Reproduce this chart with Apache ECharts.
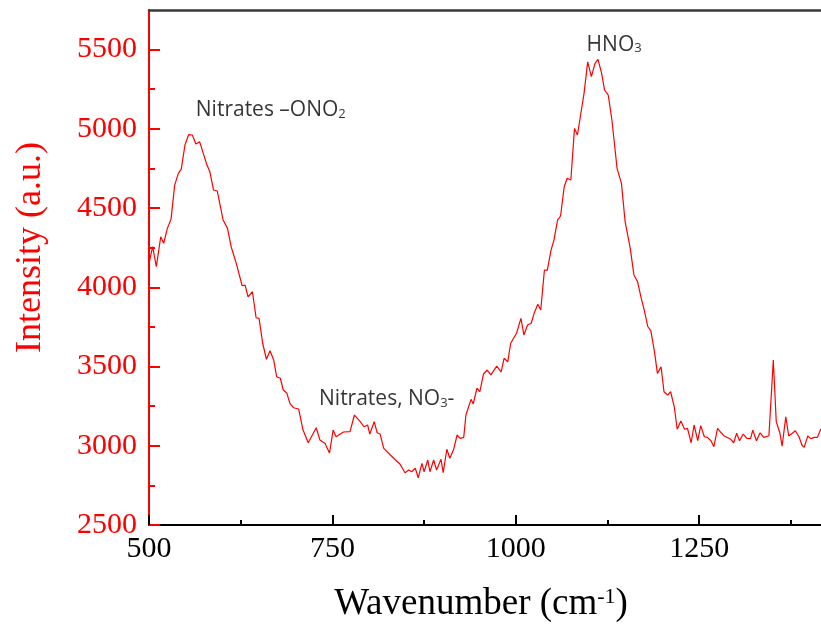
<!DOCTYPE html>
<html>
<head>
<meta charset="utf-8">
<script src="https://cdn.jsdelivr.net/npm/echarts@6/dist/echarts.min.js"></script>
<style>
  html, body { margin: 0; padding: 0; background: #ffffff; }
  #chart { width: 821px; height: 625px; }
</style>
</head>
<body>
<div id="chart"></div>
<script>
// Raman spectrum: wavenumber (cm^-1) against intensity (a.u.)
const wavenumbers = [
  500, 505, 510, 516, 520, 525, 530, 535, 540, 544,
  549, 554, 559, 564, 569, 574, 579, 583, 588, 593,
  601, 607, 612, 619, 627, 631, 635, 641, 646, 650,
  655, 660, 665, 670, 674, 679, 683, 688, 692, 697,
  704, 710, 717, 728, 733, 740, 746, 751, 755, 765,
  774, 780, 788, 793, 798, 801, 807, 811, 815, 820,
  829, 836, 842, 849, 854, 858, 863, 867, 872, 875,
  880, 883, 888, 892, 898, 901, 906, 910, 915, 920,
  924, 929, 932, 939, 942, 947, 951, 956, 961, 966,
  974, 980, 984, 989, 993, 1001, 1007, 1011, 1016, 1021,
  1025, 1030, 1034, 1039, 1043, 1048, 1052, 1057, 1061, 1066,
  1070, 1075, 1080, 1084, 1089, 1093, 1098, 1103, 1108, 1112,
  1117, 1121, 1126, 1131, 1138, 1144, 1149, 1156, 1161, 1166,
  1171, 1175, 1180, 1184, 1189, 1193, 1198, 1202, 1207, 1211,
  1216, 1220, 1225, 1230, 1234, 1239, 1243, 1248, 1252, 1257,
  1261, 1266, 1270, 1275, 1280, 1284, 1289, 1293, 1297, 1301,
  1305, 1310, 1315, 1320, 1323, 1328, 1333, 1338, 1345, 1347,
  1351, 1355, 1360, 1363, 1368, 1372, 1377, 1381, 1386, 1390,
  1393, 1398, 1402, 1407, 1411, 1416
];

const intensities = [
  4151, 4256, 4130, 4319, 4278, 4372, 4429, 4645, 4719, 4746,
  4898, 4963, 4961, 4904, 4919, 4845, 4772, 4729, 4614, 4608,
  4425, 4372, 4256, 4151, 4010, 4014, 3939, 3972, 3808, 3804,
  3647, 3546, 3600, 3541, 3436, 3426, 3352, 3331, 3268, 3240,
  3232, 3099, 3019, 3114, 3036, 3014, 2954, 3099, 3057, 3087,
  3089, 3194, 3152, 3120, 3131, 3074, 3152, 3082, 3074, 2984,
  2942, 2910, 2885, 2830, 2847, 2836, 2858, 2798, 2889, 2836,
  2910, 2836, 2910, 2847, 2915, 2830, 2978, 2921, 2973, 3068,
  3047, 3053, 3194, 3293, 3264, 3363, 3341, 3453, 3478, 3447,
  3503, 3467, 3552, 3530, 3647, 3710, 3804, 3699, 3762, 3773,
  3836, 3893, 3857, 4109, 4109, 4235, 4298, 4425, 4450, 4635,
  4688, 4677, 5003, 4961, 5108, 5224, 5423, 5329, 5413, 5439,
  5350, 5245, 5213, 5056, 4751, 4656, 4414, 4246, 4078, 4035,
  3930, 3857, 3751, 3726, 3594, 3457, 3499, 3341, 3320, 3341,
  3246, 3104, 3156, 3104, 3110, 3019, 3131, 3032, 3127, 3057,
  3053, 3032, 2994, 3110, 3082, 3062, 3051, 3041, 3019, 3079,
  3032, 3074, 3047, 3045, 3099, 3032, 3082, 3053, 3063, 3068,
  3541, 3152, 3079, 2998, 3183, 3062, 3079, 3095, 3057, 3005,
  2990, 3062, 3045, 3053, 3053, 3108
];

// Axis ranges and tick positions
const xRange = [500, 1416];
const xTicks = [500, 750, 1000, 1250];
const xMinorTicks = [625, 875, 1125, 1375];
const yRange = [2500, 5750];
const yTicks = [2500, 3000, 3500, 4000, 4500, 5000, 5500];
const yMinorTicks = [2750, 3250, 3750, 4250, 4750, 5250];

// Band assignments, anchored in data coordinates
const bandLabels = ['Nitrates –ONO|2', 'Nitrates, NO|3|-', 'HNO|3'];
const bandX = [666, 824, 1134];
const bandY = [5119, 3295, 5532];

const RED = '#ff0000';
const SERIF = '"Liberation Serif", "Times New Roman", serif';
const SANS = '"Open Sans", Lato, sans-serif';

// 'A|2|B' -> main text, subscript, main text
function richLabel(spec) {
  const parts = spec.split('|');
  return parts.map((p, i) => (i % 2 === 1 ? '{s|' + p + '}' : '{t|' + p + '}')).join('');
}
const plain = (v) => String(v);

const spectrum = wavenumbers.map((w, i) => [w, intensities[i]]);
const bands = bandLabels.map((t, i) => ({ value: [bandX[i], bandY[i]], label: { formatter: richLabel(t) } }));

const chart = echarts.init(document.getElementById('chart'), null, { renderer: 'canvas' });

chart.setOption({
  animation: false,
  backgroundColor: '#ffffff',
  grid: { left: 149, right: 0, top: 10, bottom: 100, containLabel: false, outerBoundsMode: 'none' },
  xAxis: [
    {
      type: 'value', position: 'bottom', min: xRange[0], max: xRange[1],
      splitLine: { show: false },
      axisLine: { show: true, lineStyle: { color: '#000000', width: 2 } },
      axisTick: { show: true, inside: true, length: 10, customValues: xTicks, lineStyle: { color: '#000000', width: 2 } },
      axisLabel: { show: true, customValues: xTicks, formatter: plain, margin: 9, color: '#000000', fontFamily: SERIF, fontSize: 30 },
      name: '{a|Wavenumber (cm}{b|-1}{a|)}',
      nameLocation: 'middle', nameGap: 61, nameMoveOverlap: false,
      nameTextStyle: {
        padding: [0, 8, 0, 0],
        rich: {
          a: { fontFamily: SERIF, fontSize: 37, color: '#000000' },
          b: { fontFamily: SERIF, fontSize: 22, color: '#000000', verticalAlign: 'top' }
        }
      }
    },
    {
      type: 'value', position: 'bottom', min: xRange[0], max: xRange[1],
      splitLine: { show: false },
      axisLine: { show: false },
      axisTick: { show: true, inside: true, length: 5, customValues: xMinorTicks, lineStyle: { color: '#000000', width: 2 } },
      axisLabel: { show: false }
    },
    {
      type: 'value', position: 'top', min: xRange[0], max: xRange[1],
      splitLine: { show: false },
      axisLine: { show: true, lineStyle: { color: '#3a3a3a', width: 2.5 } },
      axisTick: { show: false },
      axisLabel: { show: false }
    }
  ],
  yAxis: [
    {
      type: 'value', position: 'left', min: yRange[0], max: yRange[1],
      splitLine: { show: false },
      axisLine: { show: true, lineStyle: { color: RED, width: 2 } },
      axisTick: { show: true, inside: true, length: 11, customValues: yTicks, lineStyle: { color: RED, width: 2 } },
      axisLabel: { show: true, customValues: yTicks, formatter: plain, margin: 12, color: RED, fontFamily: SERIF, fontSize: 30 },
      name: 'Intensity (a.u.)',
      nameLocation: 'middle', nameRotate: 90, nameGap: 100, nameMoveOverlap: false,
      nameTextStyle: { color: RED, fontFamily: SERIF, fontSize: 36, padding: [0, 0, 0, 40] }
    },
    {
      type: 'value', position: 'left', min: yRange[0], max: yRange[1],
      splitLine: { show: false },
      axisLine: { show: false },
      axisTick: { show: true, inside: true, length: 6, customValues: yMinorTicks, lineStyle: { color: RED, width: 2 } },
      axisLabel: { show: false }
    }
  ],
  series: [
    {
      type: 'line',
      xAxisIndex: 0, yAxisIndex: 0,
      data: spectrum,
      showSymbol: false,
      symbol: 'none',
      lineStyle: { color: RED, width: 1.2 },
      clip: true,
      z: 3
    },
    {
      type: 'scatter',
      xAxisIndex: 0, yAxisIndex: 0,
      data: bands,
      symbolSize: 1,
      itemStyle: { color: 'rgba(0,0,0,0)' },
      silent: true,
      label: {
        show: true,
        position: 'inside',
        rich: {
          t: { fontFamily: SANS, fontSize: 21, color: '#000000' },
          s: { fontFamily: SANS, fontSize: 13, color: '#000000', verticalAlign: 'bottom' }
        }
      },
      z: 4
    }
  ]
});
</script>
</body>
</html>
